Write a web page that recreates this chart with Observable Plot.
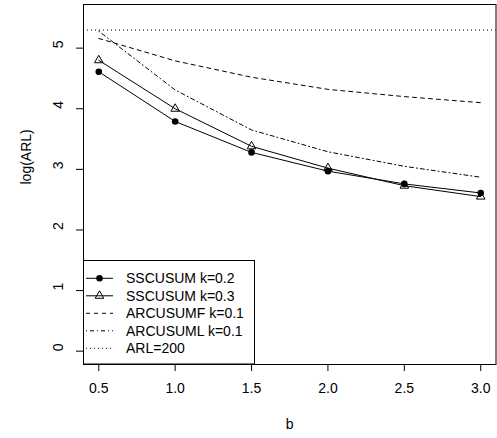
<!DOCTYPE html>
<html>
<head>
<meta charset="utf-8">
<script src="https://cdn.jsdelivr.net/npm/d3@7"></script>
<script src="https://cdn.jsdelivr.net/npm/@observablehq/plot@0.6"></script>
<style>
  html, body { margin: 0; padding: 0; background: white; }
  #wrap { position: relative; width: 497px; height: 438px; }
  #wrap svg { position: absolute; left: 0; top: 0; }
</style>
</head>
<body>
<div id="wrap"></div>
<script>
// ---- data ----
const b        = [0.5, 1.0, 1.5, 2.0, 2.5, 3.0];
const ss02     = [4.61, 3.79, 3.28, 2.97, 2.76, 2.61];   // SSCUSUM k=0.2
const ss03     = [4.80, 4.00, 3.38, 3.02, 2.73, 2.55];   // SSCUSUM k=0.3
const arcF     = [5.16, 4.79, 4.52, 4.32, 4.20, 4.10];   // ARCUSUMF k=0.1
const arcL     = [5.28, 4.31, 3.65, 3.29, 3.05, 2.87];   // ARCUSUML k=0.1
const arl      = [Math.log(200)];                        // ARL=200
const xTicks   = [0.5, 1.0, 1.5, 2.0, 2.5, 3.0];
const yTicks   = [0, 1, 2, 3, 4, 5];
const legendLabels = ["SSCUSUM k=0.2", "SSCUSUM k=0.3", "ARCUSUMF k=0.1", "ARCUSUML k=0.1", "ARL=200"];

const rows = (ys) => b.map((x, i) => ({x, y: ys[i]}));
const FONT = "Liberation Sans, Arial, Helvetica, sans-serif";

const chart = Plot.plot({
  width: 497,
  height: 438,
  marginLeft: 83,
  marginRight: 1.5,
  marginTop: 4,
  marginBottom: 74,
  style: {fontFamily: FONT, fontSize: "14px", background: "white", color: "black"},
  x: {domain: [0.4, 3.1]},
  y: {domain: [-0.22, 5.72]},
  marks: [
    Plot.ruleY(arl, {stroke: "black", strokeWidth: 1, strokeDasharray: "1,3"}),
    Plot.line(rows(arcF), {x: "x", y: "y", stroke: "black", strokeWidth: 1, strokeDasharray: "4,4"}),
    Plot.line(rows(arcL), {x: "x", y: "y", stroke: "black", strokeWidth: 1, strokeDasharray: "1,3,4,3"}),
    Plot.line(rows(ss02), {x: "x", y: "y", stroke: "black", strokeWidth: 1}),
    Plot.dot(rows(ss02), {x: "x", y: "y", r: 3.3, fill: "black", stroke: "none"}),
    Plot.line(rows(ss03), {x: "x", y: "y", stroke: "black", strokeWidth: 1}),
    Plot.dot(rows(ss03), {x: "x", y: "y", r: 3.2, symbol: "triangle", fill: "none", stroke: "black", strokeWidth: 1}),
    Plot.frame({stroke: "black", strokeWidth: 1}),
    Plot.axisX({ticks: xTicks, tickSize: 7, tickPadding: 12, tickFormat: d3.format(".1f"), fontSize: 14, label: null, stroke: "black"}),
    Plot.axisY({ticks: yTicks, tickSize: 7, tickFormat: () => "", label: null, stroke: "black"}),
    Plot.text(yTicks, {y: d => d, text: d => String(d), frameAnchor: "left", dx: -25, rotate: -90, fontSize: 14, fill: "black"}),
    Plot.text(["b"], {text: d => d, frameAnchor: "bottom", dy: 64, fontSize: 14, fill: "black"}),
    Plot.text(["log(ARL)"], {text: d => d, frameAnchor: "left", dx: -57, rotate: -90, fontSize: 14, fill: "black"})
  ]
});

const wrap = document.getElementById("wrap");
wrap.appendChild(chart);

// ---- legend (bottom-left, inside the plot region) ----
const lg = d3.create("svg")
  .attr("width", 497).attr("height", 438)
  .style("font-family", FONT).style("font-size", "14px");
const L = {x0: 83, y0: 260, w: 171, h: 104};
lg.append("rect").attr("x", L.x0 + 0.5).attr("y", L.y0 + 0.5).attr("width", L.w).attr("height", L.h - 0.5)
  .attr("fill", "white").attr("stroke", "black").attr("stroke-width", 1);
const dashes = [null, null, "4,4", "1,3,4,3", "1,3"];
legendLabels.forEach((lab, i) => {
  const y = 278.3 + i * 17.5;
  lg.append("line").attr("x1", 86).attr("x2", 113).attr("y1", y).attr("y2", y)
    .attr("stroke", "black").attr("stroke-width", 1)
    .attr("stroke-dasharray", dashes[i]);
  if (i === 0) lg.append("circle").attr("cx", 99.5).attr("cy", y).attr("r", 3.3).attr("fill", "black");
  if (i === 1) lg.append("path").attr("d", d3.symbol(d3.symbolTriangle, 3.2 * 3.2 * Math.PI)())
    .attr("transform", `translate(99.5,${y})`).attr("fill", "none").attr("stroke", "black");
  lg.append("text").attr("x", 126).attr("y", y).attr("dy", "0.35em").attr("fill", "black").text(lab);
});
wrap.appendChild(lg.node());
</script>
</body>
</html>
